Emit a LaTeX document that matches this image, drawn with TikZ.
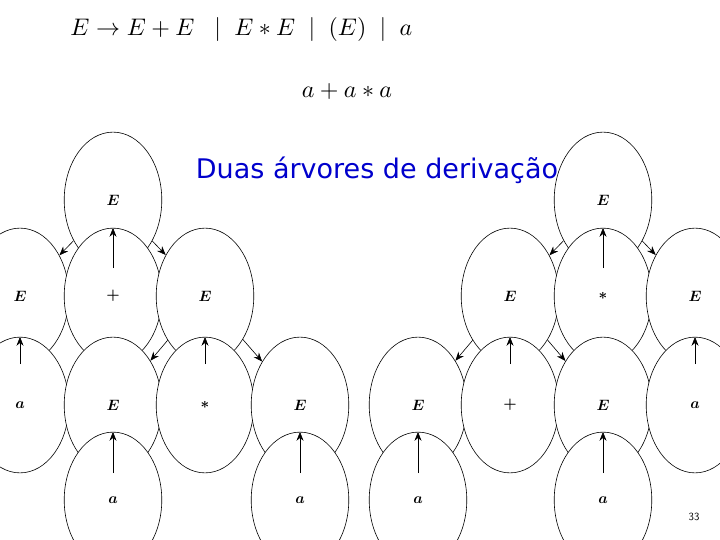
\documentclass[tikz,border=0pt]{standalone}
\usepackage{fontspec}
\usepackage{amsmath}
\usetikzlibrary{shapes.geometric,arrows.meta}
\newfontfamily\blue{DejaVu Sans}
\begin{document}
\begin{tikzpicture}[x=1pt,y=-1pt,
  nd/.style={draw,ellipse,semithick,minimum width=46pt,minimum height=64pt,inner sep=0pt,fill=white},
  lb/.style={scale=1.5},
  ar/.style={-{Stealth[length=9pt,width=7pt]},semithick}]
\useasboundingbox (0,0) rectangle (720,540);
\node[anchor=west,scale=2.4] (t1) at (62,30) {$E \rightarrow E+E \;\;\mid\; E*E \;\mid\; (E) \;\mid\; a$};
\node[scale=2.4] (t2) at (347,92) {$a+a*a$};
\node[font=\blue\fontsize{27}{30}\selectfont,text=blue!80!black] (t3) at (377,170) {Duas árvores de derivação};
\node[font=\sffamily\fontsize{11}{12}\selectfont] (pg) at (694,517) {33};
% left tree
\node[nd] (L) at (113,200) {\tikz[baseline]\node[lb]{$\boldsymbol{E}$};};
\node[nd] (L1) at (20,296) {\tikz[baseline]\node[lb]{$\boldsymbol{E}$};};
\node[nd] (L2) at (113,296) {\tikz[baseline]\node[lb]{$\boldsymbol{+}$};};
\node[nd] (L3) at (205,296) {\tikz[baseline]\node[lb]{$\boldsymbol{E}$};};
\node[nd] (L11) at (20,405) {\tikz[baseline]\node[lb]{$\boldsymbol{a}$};};
\node[nd] (L31) at (113,405) {\tikz[baseline]\node[lb]{$\boldsymbol{E}$};};
\node[nd] (L32) at (205,405) {\tikz[baseline]\node[lb]{$\boldsymbol{*}$};};
\node[nd] (L33) at (300,405) {\tikz[baseline]\node[lb]{$\boldsymbol{E}$};};
\node[nd] (L311) at (113,500) {\tikz[baseline]\node[lb]{$\boldsymbol{a}$};};
\node[nd] (L331) at (300,500) {\tikz[baseline]\node[lb]{$\boldsymbol{a}$};};
\foreach \a/\b in {L/L1,L/L2,L/L3,L1/L11,L3/L31,L3/L32,L3/L33,L31/L311,L33/L331}
  \draw[ar] (\a) -- (\b);
% right tree
\node[nd] (R) at (603,200) {\tikz[baseline]\node[lb]{$\boldsymbol{E}$};};
\node[nd] (R1) at (510,296) {\tikz[baseline]\node[lb]{$\boldsymbol{E}$};};
\node[nd] (R2) at (603,296) {\tikz[baseline]\node[lb]{$\boldsymbol{*}$};};
\node[nd] (R3) at (695,296) {\tikz[baseline]\node[lb]{$\boldsymbol{E}$};};
\node[nd] (R11) at (418,405) {\tikz[baseline]\node[lb]{$\boldsymbol{E}$};};
\node[nd] (R12) at (510,405) {\tikz[baseline]\node[lb]{$\boldsymbol{+}$};};
\node[nd] (R13) at (603,405) {\tikz[baseline]\node[lb]{$\boldsymbol{E}$};};
\node[nd] (R31) at (695,405) {\tikz[baseline]\node[lb]{$\boldsymbol{a}$};};
\node[nd] (R111) at (418,500) {\tikz[baseline]\node[lb]{$\boldsymbol{a}$};};
\node[nd] (R131) at (603,500) {\tikz[baseline]\node[lb]{$\boldsymbol{a}$};};
\foreach \a/\b in {R/R1,R/R2,R/R3,R1/R11,R1/R12,R1/R13,R3/R31,R11/R111,R13/R131}
  \draw[ar] (\a) -- (\b);
\end{tikzpicture}
\end{document}
